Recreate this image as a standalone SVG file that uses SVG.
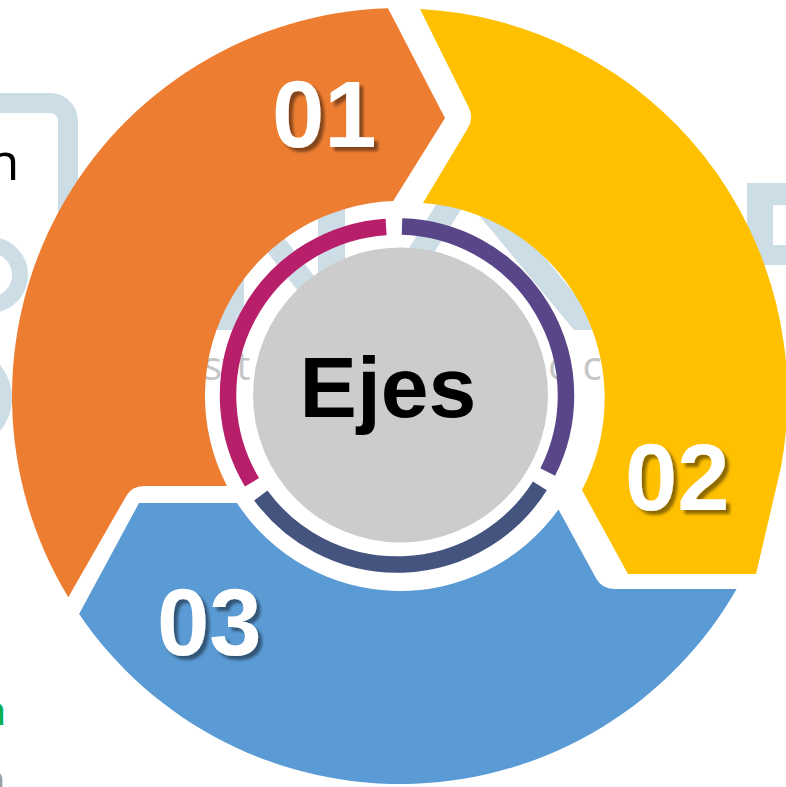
<svg xmlns="http://www.w3.org/2000/svg" width="786" height="787" viewBox="0 0 786 787">
<defs>
<style>
.wm{fill:#CDDDE5}
.wms{fill:none;stroke:#CDDDE5}
.wmt{font-family:"Open Sans","DejaVu Sans",sans-serif;font-size:40px;fill:#C6C6C6}
.edge{font-family:"Open Sans","DejaVu Sans",sans-serif}
.num{font-family:"Liberation Sans",Arial,sans-serif;font-weight:bold;font-size:94px;fill:#FFFFFF;filter:url(#sh)}
.arc{fill:none;stroke-width:16.5}
</style>
<filter id="sh" x="-20%" y="-20%" width="150%" height="150%">
<feDropShadow dx="4" dy="4" stdDeviation="1.5" flood-color="#000" flood-opacity="0.45"/>
</filter>
</defs>
<rect width="786" height="787" fill="#FFFFFF"/>

<g id="watermark">
<path class="wms" stroke-width="20" d="M-50,103 H50 A18,18 0 0 1 68,121 V400"/>
<circle class="wms" cx="-10" cy="275" r="30" stroke-width="16"/>
<circle class="wm" cx="-40" cy="398" r="52"/>
<path class="wm" fill-rule="evenodd" d="M747,183H800V265H747Z M773,205H800V245H773Z"/>
<rect class="wm" x="217" y="200" width="27" height="130"/>
<polygon class="wm" points="226,200 254,200 349,320 321,320"/>
<rect class="wm" x="318" y="195" width="27" height="130"/>
<polygon class="wm" points="442,195 470,195 386,330 358,330"/>
<polygon class="wm" points="462,195 494,195 604,330 574,330"/>
<text class="wmt" x="203" y="380">stt</text>
<text class="wmt" x="548" y="380">o c</text>
<text class="edge" x="-12.6" y="180" font-size="52" fill="#000000">n</text>
<text class="edge" x="-18.7" y="725" font-size="41" fill="#00B050">n</text>
<text class="edge" x="-19.5" y="794" font-size="41" fill="#A0A0A0">n</text>
</g>

<g id="seg-01">
<path fill="#ED7D31" d="M227,486 L144,486 Q132,486 126,496.4 L68.3,597.3 A388,388 0 0 1 388,8.2 L445,118 L393.2,201.1 A195,195 0 0 0 227,486 Z"/>
<text class="num" x="272" y="147">01</text>
</g>

<g id="seg-02">
<path fill="#FFC000" d="M420,9 A388,388 0 0 1 781,467 L756,574 L628,574 L582,490 A196,196 0 0 0 423,203 L467.8,128.3 Q474,118 468.7,107.2 Z"/>
<text class="num" x="625" y="510">02</text>
</g>

<g id="seg-03">
<path fill="#5B9BD5" d="M237,503 L139,503 L79.1,614.1 A388,388 0 0 0 736.6,589 L614,589 Q602,589 596.2,578.5 L558.5,509.5 A195,195 0 0 1 237,503 Z"/>
<text class="num" x="157" y="655">03</text>
</g>

<g id="connectors">
<path class="arc" stroke="#B81F6A" d="M252,482.3 A169,169 0 0 1 386.1,226.9"/>
<path class="arc" stroke="#584689" d="M402,226.6 A169,169 0 0 1 547.7,472"/>
<path class="arc" stroke="#44547E" d="M539.9,485.8 A169,169 0 0 1 260.8,495.5"/>
</g>

<g id="center">
<circle cx="400.5" cy="395" r="147.5" fill="#CCCCCC"/>
<text x="388" y="417" text-anchor="middle" font-family="Liberation Sans, Arial, sans-serif" font-weight="bold" font-size="86" fill="#000000">Ejes</text>
</g>
</svg>
